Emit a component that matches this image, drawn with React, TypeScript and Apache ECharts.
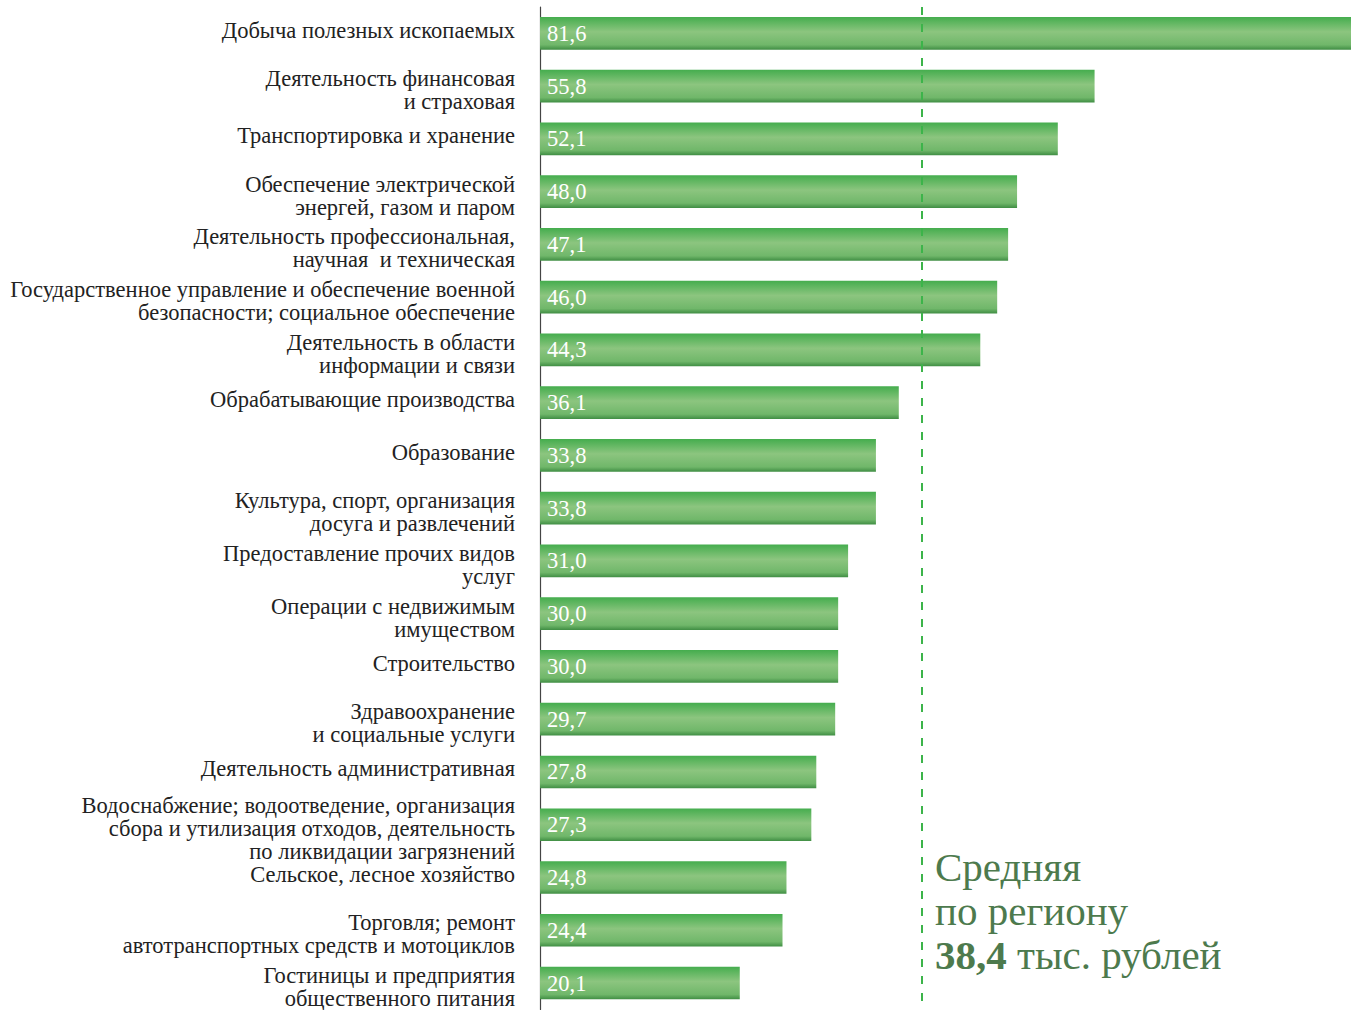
import React, { useEffect, useRef } from "react";
import * as echarts from "echarts";

const categories: string[] = [
  "Добыча полезных ископаемых",
  "Деятельность финансовая\nи страховая",
  "Транспортировка и хранение",
  "Обеспечение электрической\nэнергей, газом и паром",
  "Деятельность профессиональная,\nнаучная  и техническая",
  "Государственное управление и обеспечение военной\nбезопасности; социальное обеспечение",
  "Деятельность в области\nинформации и связи",
  "Обрабатывающие производства",
  "Образование",
  "Культура, спорт, организация\nдосуга и развлечений",
  "Предоставление прочих видов\nуслуг",
  "Операции с недвижимым\nимуществом",
  "Строительство",
  "Здравоохранение\nи социальные услуги",
  "Деятельность административная",
  "Водоснабжение; водоотведение, организация\nсбора и утилизация отходов, деятельность\nпо ликвидации загрязнений",
  "Сельское, лесное хозяйство",
  "Торговля; ремонт\nавтотранспортных средств и мотоциклов",
  "Гостиницы и предприятия\nобщественного питания",
];

const values: number[] = [
  81.6, 55.8, 52.1, 48.0, 47.1, 46.0, 44.3, 36.1, 33.8, 33.8, 31.0, 30.0, 30.0, 29.7, 27.8, 27.3, 24.8,
  24.4, 20.1,
];

const regionAverage = 38.4;
const annotationLines: string[] = ["Средняя", "по региону", "тыс. рублей"];

const FONT = "'Liberation Serif', 'DejaVu Serif', serif";

function formatCategory(text: string): string {
  const lines = text.split("\n");
  const body = lines.map((l) => `{t|${l}}`).join("\n");
  if (lines.length === 1) return `${body}\n{s| }`;
  return `{s2| }\n${body}`;
}

export default function App() {
  const ref = useRef<HTMLDivElement>(null);

  useEffect(() => {
    if (!ref.current) return;
    const chart = echarts.init(ref.current, undefined, { renderer: "svg" });
    const avgText = regionAverage.toFixed(1).replace(".", ",");
    chart.setOption({
      animation: false,
      grid: { left: 540, right: 0, top: 7, bottom: 0, containLabel: false },
      xAxis: {
        type: "value",
        min: 0,
        max: 81.6,
        show: false,
      },
      yAxis: {
        type: "category",
        inverse: true,
        data: categories,
        axisLine: { show: true, lineStyle: { color: "#444", width: 1.2 } },
        axisTick: { show: false },
        axisLabel: {
          interval: 0,
          hideOverlap: false,
          margin: 25,
          color: "#222",
          fontFamily: FONT,
          fontSize: 22.5,
          lineHeight: 23,
          align: "right",
          verticalAlign: "middle",
          formatter: (v: string) => formatCategory(v),
          rich: {
            t: { color: "#222", fontFamily: FONT, fontSize: 22.5, lineHeight: 23, align: "right" },
            s: { fontSize: 1, lineHeight: 6 },
            s2: { fontSize: 1, lineHeight: 8 },
          },
        },
      },
      series: [
        {
          type: "bar",
          data: values,
          barCategoryGap: "38%",
          itemStyle: {
            color: new echarts.graphic.LinearGradient(0, 0, 0, 1, [
              { offset: 0, color: "#45ad4e" },
              { offset: 0.45, color: "#8cc57f" },
              { offset: 0.85, color: "#70b76a" },
              { offset: 1, color: "#3f8d43" },
            ]),
          },
          label: {
            show: true,
            position: "insideLeft",
            distance: 7,
            color: "#fff",
            fontFamily: FONT,
            fontSize: 22.5,
            formatter: (p: any) => Number(p.value).toFixed(1).replace(".", ","),
          },
          markLine: {
            silent: true,
            symbol: "none",
            label: { show: false },
            lineStyle: { color: "#3cb44a", type: [8, 9], width: 2 },
            data: [{ xAxis: regionAverage }],
          },
        },
      ],
      graphic: [
        {
          type: "text",
          left: 935,
          top: 845,
          style: {
            text: `${annotationLines[0]}\n${annotationLines[1]}\n{b|${avgText}} ${annotationLines[2]}`,
            fill: "#4d7a4d",
            font: `41px ${FONT}`,
            lineHeight: 44,
            rich: {
              b: { fontWeight: "bold", fontSize: 41, fontFamily: FONT, fill: "#4d7a4d", lineHeight: 44 },
            },
          },
        },
      ],
    });
    return () => chart.dispose();
  }, []);

  return (
    <div
      ref={ref}
      style={{ position: "absolute", left: 0, top: 0, width: 1351, height: 1010, background: "#fff" }}
    />
  );
}
